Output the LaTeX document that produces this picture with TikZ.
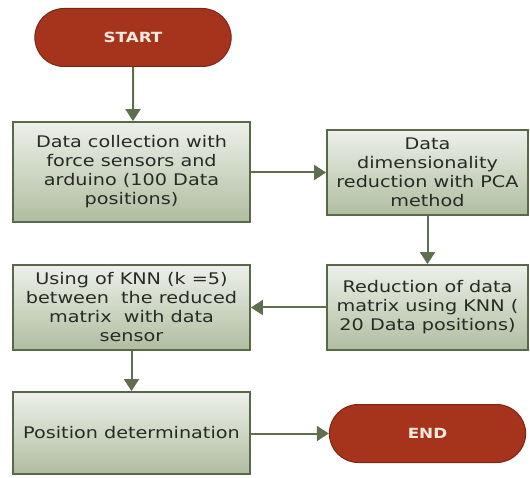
\documentclass[tikz,border=0pt]{standalone}
\usepackage{fontspec}
\setmainfont[FakeStretch=1.2]{DejaVu Sans}
\usepackage{tikz}
\usetikzlibrary{shapes.misc,arrows.meta}

\definecolor{termred}{RGB}{166,51,27}
\definecolor{termedge}{RGB}{125,38,20}
\definecolor{termtext}{RGB}{250,235,222}
\definecolor{boxtop}{RGB}{237,240,233}
\definecolor{boxbot}{RGB}{175,189,160}
\definecolor{boxedge}{RGB}{90,104,74}
\definecolor{flowline}{RGB}{96,110,80}
\definecolor{boxtext}{RGB}{40,42,38}

\begin{document}
\begin{tikzpicture}[x=1pt,y=-1pt,
	term/.style={shape=rounded rectangle, fill=termred, draw=termedge, line width=1pt,
		text=termtext, font=\fontsize{14}{16}\selectfont\bfseries,
		minimum width=203pt, minimum height=58pt},
	stepbox/.style={shape=rectangle, top color=boxtop, bottom color=boxbot, draw=boxedge,
		line width=1.8pt, text=boxtext, align=center, inner sep=2pt,
		font=\fontsize{16}{19}\selectfont},
	wide/.style={minimum width=237pt},
	narrow/.style={minimum width=201pt},
	flow/.style={draw=flowline, line width=2pt,
		-{Triangle[width=15pt,length=12pt]}}]
	\useasboundingbox (0,0) rectangle (530,478);

	\node[term] (start) at (133,37.5) {START};
	\node[stepbox,wide,minimum height=100pt] (collect) at (131.5,172) {Data collection with\\force sensors and\\arduino (100 Data\\positions)};
	\node[stepbox,narrow,minimum height=85pt] (pca) at (427.5,172.5) {Data\\dimensionality\\reduction with PCA\\method};
	\node[stepbox,narrow,minimum height=85pt] (reduce) at (427.5,307.5) {Reduction of data\\matrix using KNN (\\20 Data positions)};
	\node[stepbox,wide,minimum height=85pt] (knn) at (131.5,307.5) {Using of KNN (k =5)\\between\ \ the reduced\\matrix\ \ with data\\sensor};
	\node[stepbox,wide,minimum height=82pt] (position) at (131.5,433) {Position determination};
	\node[term] (end) at (427.5,433.5) {END};

	\path (start) edge[flow] (start |- collect.north);
	\path (collect.east |- pca) edge[flow] (pca.west);
	\path (pca) edge[flow] (reduce);
	\path (reduce.west) edge[flow] (knn.east |- reduce.west);
	\path (knn) edge[flow] (position);
	\path (position.east |- end) edge[flow] (end.west);
\end{tikzpicture}
\end{document}
